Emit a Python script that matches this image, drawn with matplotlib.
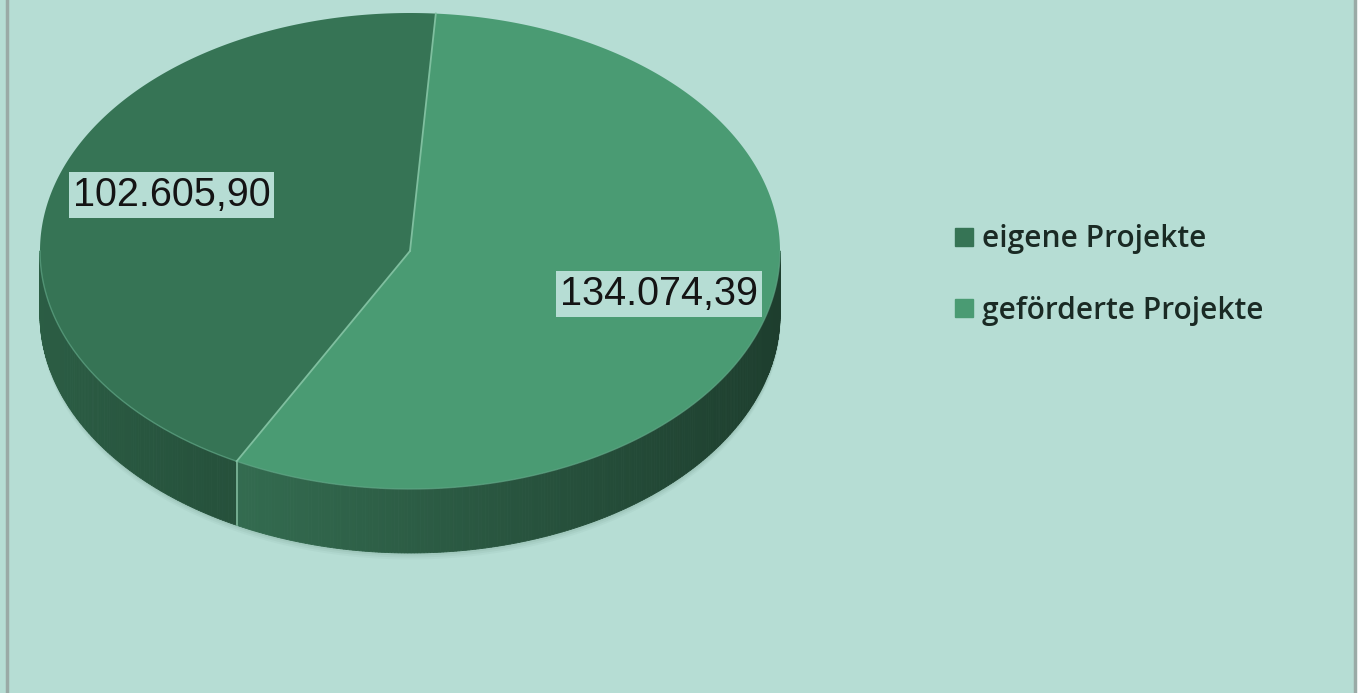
import numpy as np
import matplotlib
matplotlib.use('Agg')
import matplotlib.pyplot as plt
from matplotlib.colors import to_rgb
from matplotlib.lines import Line2D

labels = ['eigene Projekte', 'geförderte Projekte']
values = [102605.90, 134074.39]
value_texts = ['102.605,90', '134.074,39']
colors = ['#367455', '#4a9b73']

BG = '#b6ddd4'
CX, CY = 410, 251          # centre of the top ellipse (pixels)
RX, RY = 370, 238          # radii of the top ellipse
DEPTH = 64                 # thickness of the pie
START = 86                 # start angle of first slice, degrees
LABEL_R = 0.69
LABEL_SHIFT = [(7, -11), (4, -2)]


def ell(theta, dy=0):
    t = np.radians(theta)
    return CX + RX * np.cos(t), CY - RY * np.sin(t) + dy


def shade(color, theta):
    f = 0.6 - 0.2 * np.cos(np.radians(theta))
    return tuple(np.array(to_rgb(color)) * f)


def draw_pie(ax):
    total = float(sum(values))
    angles = [START]
    for v in values:
        angles.append(angles[-1] + 360.0 * v / total)

    # soft shadow under the pie
    th = np.linspace(180, 360, 200)
    for k, a in zip([6, 4, 2], [0.05, 0.07, 0.09]):
        x, y = ell(th, DEPTH + k)
        ax.fill_between(x, y - 10, y, color='#4d7a68', alpha=a, lw=0)

    # side walls (only the front half is visible)
    for i in range(len(values)):
        a0, a1 = angles[i], angles[i + 1]
        for off in (0, 360):
            lo, hi = max(a0 - off, 180), min(a1 - off, 360)
            if hi <= lo:
                continue
            steps = np.linspace(lo, hi, int(hi - lo) * 2 + 2)
            for s0, s1 in zip(steps[:-1], steps[1:]):
                x0, y0 = ell(s0)
                x1, y1 = ell(s1)
                c = shade(colors[i], (s0 + s1) / 2)
                ax.fill([x0, x1, x1, x0], [y0, y1, y1 + DEPTH, y0 + DEPTH],
                        color=c, lw=0.6, ec=c)

    # seam on the side wall
    for a in angles:
        if 180 < a % 360 < 360:
            x, y = ell(a)
            ax.plot([x, x], [y, y + DEPTH], color='#7fb99b', lw=1.2)

    # top faces
    for i in range(len(values)):
        th = np.linspace(angles[i], angles[i + 1], 300)
        x, y = ell(th)
        ax.fill(np.r_[CX, x], np.r_[CY, y], color=colors[i], lw=0)

    # light rim and slice borders
    x, y = ell(np.linspace(180, 360, 300))
    ax.plot(x, y, color='#5fa585', lw=1.0, alpha=0.7)
    for a in angles[:-1]:
        x, y = ell(a)
        ax.plot([CX, x], [CY, y], color='#7fbf9f', lw=1.3)

    # value labels
    for i in range(len(values)):
        mid = (angles[i] + angles[i + 1]) / 2
        x, y = ell(mid)
        lx = CX + LABEL_R * (x - CX) + LABEL_SHIFT[i][0]
        ly = CY + LABEL_R * (y - CY) + LABEL_SHIFT[i][1]
        ax.text(lx, ly, value_texts[i], ha='center', va='center',
                fontsize=28.5, family='Liberation Sans', color='#141414',
                bbox=dict(boxstyle='square,pad=0.1', fc=BG, ec='none'))


def plot_all(output_image='out.png'):
    fig = plt.figure(figsize=(13.64, 6.93), dpi=100)
    fig.patch.set_facecolor(BG)
    ax = fig.add_axes([0, 0, 1, 1])
    ax.set_xlim(0, 1364)
    ax.set_ylim(693, 0)
    ax.axis('off')

    # frame lines
    ax.plot([7, 7], [0, 693], color='#9aaaa6', lw=2.5)
    ax.plot([1355, 1355], [0, 693], color='#9aaaa6', lw=2.5)
    ax.fill_between([1357, 1364], 0, 693, color='white', lw=0)

    draw_pie(ax)

    handles = [Line2D([], [], ls='none', marker='s', markersize=13,
                      mfc=c, mec=c) for c in colors]
    ax.legend(handles, labels, loc='center left',
              bbox_to_anchor=(937 / 1364, 1 - 275 / 693),
              frameon=False, handletextpad=0.12, handlelength=1.0,
              labelspacing=1.4, borderaxespad=0,
              prop={'family': 'Open Sans', 'size': 21.5, 'weight': 'semibold'},
              labelcolor='#1a2a24')

    fig.savefig(output_image, dpi=100, facecolor=BG)


if __name__ == '__main__':
    plot_all()
